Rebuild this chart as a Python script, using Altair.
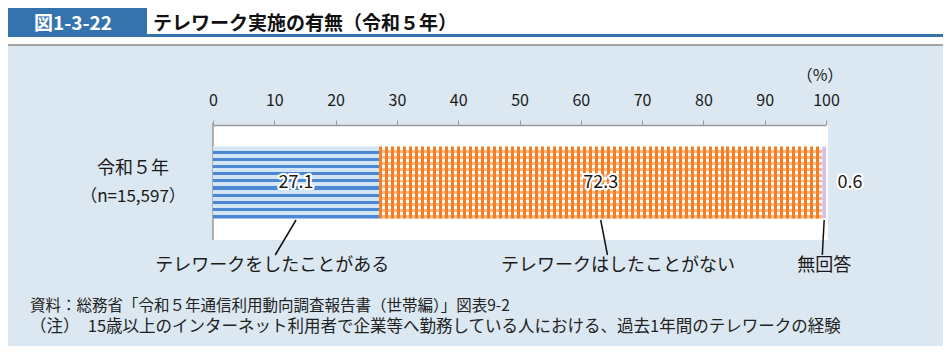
import altair as alt
import pandas as pd

# ---------------- data ----------------
categories = ["テレワークをしたことがある", "テレワークはしたことがない", "無回答"]
values = [27.1, 72.3, 0.6]
row_label = "令和５年"
n_label = "（n=15,597）"
tick_values = [0, 10, 20, 30, 40, 50, 60, 70, 80, 90, 100]
fig_no = "図1-3-22"
title_text = "テレワーク実施の有無（令和５年）"
unit_text = "（%）"
notes = [
    "資料：総務省「令和５年通信利用動向調査報告書（世帯編）」図表9-2",
    "（注）　15歳以上のインターネット利用者で企業等へ勤務している人における、過去1年間のテレワークの経験",
]

# ---------------- layout (not data) ----------------
leader_shift = [-3.4, 1.1, -0.3]   # leader foot offset from segment centre, in axis units
label_shift = [-3.9, 2.8, 0.0]     # caption centre offset from segment centre, in axis units
FONT = "Noto Sans CJK JP"
TXT = "#1a1a1a"
PW, PH = 613, 115
PAD = {"left": 205, "top": 117, "right": 935 - 205 - PW, "bottom": 338 - 117 - PH}

rows = []
acc = 0.0
for i, (c, v) in enumerate(zip(categories, values)):
    start, end = acc, acc + v
    acc = end
    mid = (start + end) / 2
    rows.append(dict(order=i, cat=c, value=v, start=start, end=end, mid=mid,
                     lead_x=mid + leader_shift[i], lab_x=mid + label_shift[i], row=row_label))
df = pd.DataFrame(rows)


def stripes(pattern, periods, horizontal):
    stops = []
    for k in range(periods):
        pos = k / periods
        for color, frac in pattern:
            stops.append(alt.GradientStop(offset=min(1.0, round(pos, 6)), color=color))
            pos += frac / periods
            stops.append(alt.GradientStop(offset=min(1.0, round(pos, 6)), color=color))
    if horizontal:
        return alt.LinearGradient(gradient="linear", stops=stops, x1=0, x2=1, y1=0, y2=0)
    return alt.LinearGradient(gradient="linear", stops=stops, x1=0, x2=0, y1=0, y2=1)


blue_fill = stripes([("#d3e6f8", 0.55), ("#4a88d6", 0.45)], 10, horizontal=False)
orange_fill = stripes([("#f77d1e", 0.5), ("#ffffff", 0.5)], 74, horizontal=True)
orange_over = stripes([("rgba(247,125,30,0)", 0.5), ("rgba(247,125,30,0.55)", 0.5)], 12, horizontal=False)
purple_fill = "#d6bdf0"

xscale = alt.Scale(domain=[0, 100], nice=False)
yscale = alt.Scale(paddingInner=0, paddingOuter=0.3)
xaxis = alt.Axis(orient="top", values=tick_values, format="d", title=None, grid=False,
                 labelFont=FONT, labelFontSize=16, labelColor=TXT, labelFlush=False,
                 labelPadding=12, tickColor="#9a9a9a", domainColor="#9a9a9a",
                 tickSize=5, tickWidth=1, domainWidth=1.5, zindex=1)

one = alt.Data(values=[{}])
deco = alt.Chart(one)

panel = deco.mark_rect(fill="#dce8f1", stroke="#a3a3a3", strokeWidth=2).encode(
    x=alt.value(-212), x2=alt.value(735), y=alt.value(-80), y2=alt.value(230))
head_blue = deco.mark_rect(fill="#3573ae").encode(
    x=alt.value(-213), x2=alt.value(738), y=alt.value(-125), y2=alt.value(-88))
head_white = deco.mark_rect(fill="#ffffff").encode(
    x=alt.value(-66), x2=alt.value(734), y=alt.value(-122), y2=alt.value(-91))
head_no = deco.mark_text(text=fig_no, font=FONT, fontSize=19, fontWeight="bold", color="#ffffff",
                         align="center", baseline="middle").encode(x=alt.value(-140), y=alt.value(-101))
head_title = deco.mark_text(text=title_text, font=FONT, fontSize=19, fontWeight="bold", color="#111111",
                            align="left", baseline="middle").encode(x=alt.value(-60), y=alt.value(-101))
plot_bg = deco.mark_rect(fill="#ffffff").encode(
    x=alt.value(0), x2=alt.value(PW + 2), y=alt.value(0), y2=alt.value(PH))
left_line = deco.mark_rule(color="#9a9a9a", strokeWidth=1.5).encode(
    x=alt.value(0), y=alt.value(-2), y2=alt.value(PH))
unit = deco.mark_text(text=unit_text, font=FONT, fontSize=16, color=TXT,
                      align="center", baseline="middle").encode(x=alt.value(607), y=alt.value(-49))
note1 = deco.mark_text(text=notes[0], font=FONT, fontSize=15.5, color="#222222",
                       align="left", baseline="middle").encode(x=alt.value(-183), y=alt.value(181))
note2 = deco.mark_text(text=notes[1], font=FONT, fontSize=16.5, color="#222222",
                       align="left", baseline="middle").encode(x=alt.value(-183), y=alt.value(202))

base = alt.Chart(df)
X_START = alt.X("start:Q", scale=xscale, axis=xaxis)
Y_ROW = alt.Y("row:N", scale=yscale, axis=None)


def seg(i, fill):
    return base.transform_filter(alt.datum.order == i).mark_bar(fill=fill, cornerRadius=0).encode(
        x=X_START, x2="end:Q", y=Y_ROW)


bar_blue = seg(0, blue_fill)
bar_orange = seg(1, orange_fill)
bar_orange2 = seg(1, orange_over)
bar_purple = seg(2, purple_fill)

lab = base.transform_calculate(
    px="datum.value < 5 ? datum.end + 3.9 : datum.mid"
)
val_halo = lab.mark_text(font=FONT, fontSize=18, color="#ffffff", stroke="#ffffff", strokeWidth=4,
                         strokeJoin="round", baseline="middle").encode(
    x=alt.X("px:Q", scale=xscale, axis=xaxis), y=Y_ROW,
    text=alt.Text("value:Q", format=".1f"))
val_txt = lab.mark_text(font=FONT, fontSize=18, color=TXT, baseline="middle").encode(
    x=alt.X("px:Q", scale=xscale, axis=xaxis), y=Y_ROW,
    text=alt.Text("value:Q", format=".1f"))

leaders = base.mark_rule(color="#111111", strokeWidth=1.5).encode(
    x=alt.X("mid:Q", scale=xscale, axis=xaxis), x2="lead_x:Q",
    y=alt.value(95), y2=alt.value(130))
captions = base.mark_text(font=FONT, fontSize=18, color=TXT, baseline="middle").encode(
    x=alt.X("lab_x:Q", scale=xscale, axis=xaxis), y=alt.value(141), text="cat:N")

rowdf = pd.DataFrame({"row": [row_label], "n": [n_label]})
row_t1 = alt.Chart(rowdf).mark_text(font=FONT, fontSize=18, color=TXT, baseline="middle", dy=-14).encode(
    x=alt.value(-80), y=Y_ROW, text="row:N")
row_t2 = alt.Chart(rowdf).mark_text(font=FONT, fontSize=17, color=TXT, baseline="middle", dy=14).encode(
    x=alt.value(-80), y=Y_ROW, text="n:N")

chart = alt.layer(
    panel, head_blue, head_white, head_no, head_title, plot_bg, left_line, unit, note1, note2,
    bar_blue, bar_orange, bar_orange2, bar_purple, val_halo, val_txt, leaders, captions, row_t1, row_t2,
).properties(
    width=PW, height=PH, autosize=alt.AutoSizeParams(type="none"), padding=PAD,
    background="#ffffff",
).configure_view(strokeWidth=0).configure(font=FONT)

chart.save("out.html", embed_options={"renderer": "svg", "actions": False})
